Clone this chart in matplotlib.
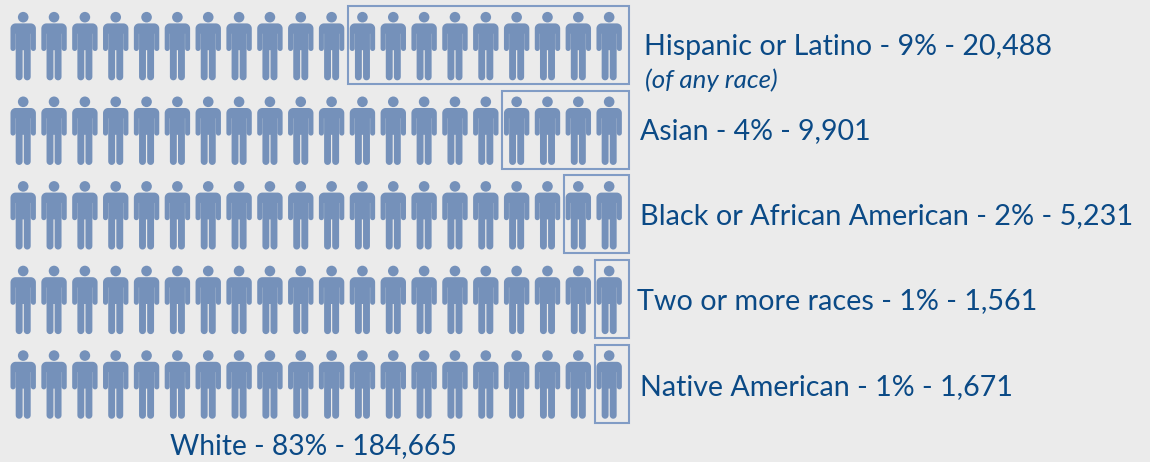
import numpy as np
import matplotlib
matplotlib.use("Agg")
import matplotlib.pyplot as plt
from matplotlib.patches import PathPatch, Circle, Rectangle
from matplotlib.path import Path
from matplotlib.transforms import Affine2D

groups = ["Hispanic or Latino", "Asian", "Black or African American", "Two or more races", "Native American"]
percents = [9, 4, 2, 1, 1]
counts = [20488, 9901, 5231, 1561, 1671]
highlighted = [9, 4, 2, 1, 1]
icons_per_row = 20
white_label = ("White", 83, 184665)
note = "(of any race)"

label_x = [644, 640, 640, 637, 640]
label_y = [47, 131, 216, 301, 387]
label_size = [20.6, 20.55, 20.75, 20.7, 20.65]

BG = "#ebebeb"
ICON = "#7591ba"
BOX = "#819cc5"
TEXT = "#0b4a86"
FONT = "Lato"

fig = plt.figure(figsize=(11.5, 4.62), dpi=100, facecolor=BG)
ax = fig.add_axes([0, 0, 1, 1])
ax.set_xlim(0, 1150)
ax.set_ylim(462, 0)
ax.axis("off")


def arc(cx, cy, r, a0, a1, n=10):
    t = np.radians(np.linspace(a0, a1, n))
    return list(zip(cx + r * np.cos(t), cy + r * np.sin(t)))


def person_path():
    # outline of one figure, centred on x=0, head centre at y=0 (y downwards)
    half = [(0, 6.2), (7.6, 6.2)]
    half += arc(7.6, 11.3, 5.1, -90, 0)
    half += arc(10.2, 31.3, 2.5, 0, 180)
    half += [(7.7, 16.5), (7.5, 16.5)]
    half += arc(4.05, 59.7, 3.45, 0, 180)
    half += [(0.6, 33.0), (0, 33.0)]
    mirrored = [(-x, y) for x, y in half[::-1]]
    return Path(half + mirrored[1:], closed=False)


body = person_path()
x0, dx = 23.2, 30.84
y0, dy = 17.2, 84.6

for r, n_hi in enumerate(highlighted):
    cy = y0 + r * dy
    for c in range(icons_per_row):
        cx = x0 + c * dx
        ax.add_patch(Circle((cx, cy), 5.3, fc=ICON, ec="none"))
        ax.add_patch(PathPatch(body, fc=ICON, ec="none",
                               transform=Affine2D().translate(cx, cy) + ax.transData))
    w = n_hi * dx + 3.5
    ax.add_patch(Rectangle((629 - w, cy - 11), w, 78, fc="none", ec=BOX, lw=1.5))

for r, (g, p, n) in enumerate(zip(groups, percents, counts)):
    ax.text(label_x[r], label_y[r], f"{g} - {p}% - {n:,}", family=FONT, fontsize=label_size[r],
            color=TEXT, va="center", ha="left")
ax.text(645, 80, note, family=FONT, fontsize=18.6, style="italic", color=TEXT, va="center", ha="left")
ax.text(170, 446, f"{white_label[0]} - {white_label[1]}% - {white_label[2]:,}", family=FONT,
        fontsize=20.35, color=TEXT, va="center", ha="left")

fig.savefig("out.png", dpi=100, facecolor=BG)
